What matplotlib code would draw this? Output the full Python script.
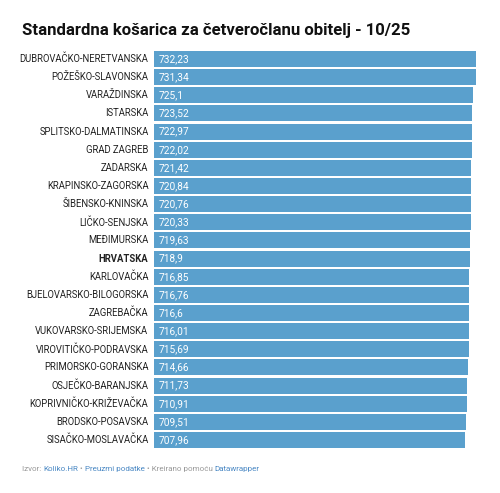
import matplotlib
matplotlib.use("Agg")
import matplotlib.pyplot as plt

plt.rcParams['font.family'] = ['Roboto', 'DejaVu Sans']

zupanije = ["DUBROVAČKO-NERETVANSKA", "POŽEŠKO-SLAVONSKA", "VARAŽDINSKA", "ISTARSKA",
            "SPLITSKO-DALMATINSKA", "GRAD ZAGREB", "ZADARSKA", "KRAPINSKO-ZAGORSKA",
            "ŠIBENSKO-KNINSKA", "LIČKO-SENJSKA", "MEĐIMURSKA", "HRVATSKA", "KARLOVAČKA",
            "BJELOVARSKO-BILOGORSKA", "ZAGREBAČKA", "VUKOVARSKO-SRIJEMSKA",
            "VIROVITIČKO-PODRAVSKA", "PRIMORSKO-GORANSKA", "OSJEČKO-BARANJSKA",
            "KOPRIVNIČKO-KRIŽEVAČKA", "BRODSKO-POSAVSKA", "SISAČKO-MOSLAVAČKA"]
vrijednosti = [732.23, 731.34, 725.1, 723.52, 722.97, 722.02, 721.42, 720.84, 720.76,
               720.33, 719.63, 718.9, 716.85, 716.76, 716.6, 716.01, 715.69, 714.66,
               711.73, 710.91, 709.51, 707.96]
oznake = ["732,23", "731,34", "725,1", "723,52", "722,97", "722,02", "721,42", "720,84",
          "720,76", "720,33", "719,63", "718,9", "716,85", "716,76", "716,6", "716,01",
          "715,69", "714,66", "711,73", "710,91", "709,51", "707,96"]
naslov = "Standardna košarica za četveročlanu obitelj - 10/25"

W, H = 500, 493
fig = plt.figure(figsize=(W / 100, H / 100), dpi=100)
fig.patch.set_facecolor("white")
fig.canvas.draw()
r = fig.canvas.get_renderer()

boja = "#5aa0cd"
visina = 0.88
ax = fig.add_axes([154 / W, 1 - 448 / H, 322 / W, (448 - 51) / H])
y = list(range(len(zupanije)))
ax.barh(y, vrijednosti, height=visina, color=boja, left=0)
ax.set_xlim(0, max(vrijednosti))
ax.set_ylim(len(zupanije) - 1 + visina / 2, -visina / 2)
ax.axis("off")

for i, (ime, v, txt) in enumerate(zip(zupanije, vrijednosti, oznake)):
    tezina = "bold" if ime == "HRVATSKA" else "normal"
    ax.annotate(ime, (0, i), xytext=(-4, 0), textcoords="offset points",
                ha="right", va="center", fontsize=6.85, color="#222222", fontweight=tezina)
    ax.annotate(txt, (0, i), xytext=(3, 0), textcoords="offset points",
                ha="left", va="center", fontsize=7.3, color="white")

fig.text(22 / W, 1 - 31 / H, naslov,
         fontsize=12.1, fontweight="bold", color="#111111", va="center", ha="left")

# footer
siva = "#999999"
plava = "#4a88c4"
dijelovi = [("Izvor: ", siva), ("Koliko.HR", plava), (" • ", siva),
            ("Preuzmi podatke", plava), (" • Kreirano pomoću ", siva), ("Datawrapper", plava)]
fs_foot = 5.8
prefiks = ""
for tekst, boja_t in dijelovi:
    x = 22
    if prefiks:
        # sirina svega prije, mjereno s tockom na kraju da se razmaci ne izgube
        t0 = fig.text(0, 0, prefiks + ".", fontsize=fs_foot)
        t1 = fig.text(0, 0, ".", fontsize=fs_foot)
        x += t0.get_window_extent(renderer=r).width - t1.get_window_extent(renderer=r).width
        t0.remove()
        t1.remove()
    fig.text(x / W, 1 - 469 / H, tekst, fontsize=fs_foot, color=boja_t, va="center", ha="left")
    prefiks += tekst

fig.savefig("out.png", dpi=100)
